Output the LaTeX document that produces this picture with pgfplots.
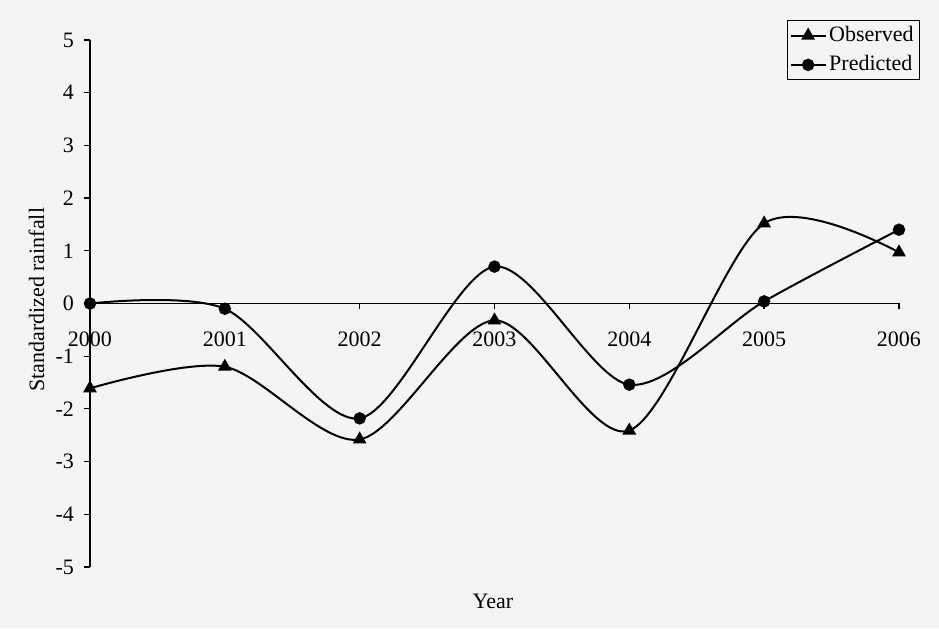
\documentclass[border=0pt]{standalone}
\usepackage{pgfplots}
\pgfplotsset{compat=1.18}
\usepackage{fontspec}
\setmainfont{Liberation Serif}
\definecolor{bg}{RGB}{244,244,244}
\newcommand{\cf}{\fontsize{11}{12.5}\selectfont}
\begin{document}
\begin{tikzpicture}
\fill[bg] (-45pt,-30.5pt) rectangle (424.5pt,283.5pt);
\begin{axis}[
  at={(0pt,0pt)}, anchor=south west,
  width=404.5pt, height=263.5pt, scale only axis,
  clip=false,
  axis x line=middle, axis y line=left,
  axis line style={-, line width=0.6pt},
  hide obscured x ticks=false,
  hide obscured y ticks=false,
  xmin=2000, xmax=2006, ymin=-5, ymax=5,
  xtick={2000,...,2006},
  xticklabels={2000,2001,2002,2003,2004,2005,2006},
  ytick={-5,...,5},
  yticklabels={-5,-4,-3,-2,-1,0,1,2,3,4,5},
  tick align=outside,
  major tick length=3pt,
  tick style={line width=0.6pt, black},
  xticklabel style={font=\cf, anchor=center, yshift=-15pt},
  yticklabel style={font=\cf, xshift=-1.5pt},
  xlabel={Year}, ylabel={Standardized rainfall},
  xlabel style={font=\cf, at={(rel axis cs:0.498,-0.066)}, anchor=center},
  ylabel style={font=\cf, at={(rel axis cs:-0.066,0.507)}, anchor=center},
  legend style={font=\cf, at={(rel axis cs:1.026,1.038)}, anchor=north east,
    draw=black, line width=0.5pt, fill=none, inner sep=1.5pt, row sep=2.5pt,
    nodes={inner sep=1.5pt}},
  legend cell align=left,
  every axis plot/.append style={line width=1pt, black},
]
\addplot[smooth, tension=0.5, mark=triangle*, mark size=3pt, mark options={solid, fill=black}]
  coordinates {(2000,-1.61) (2001,-1.20) (2002,-2.58) (2003,-0.32) (2004,-2.41) (2005,1.52) (2006,0.97)};
\addlegendentry{Observed}
\addplot[smooth, tension=0.5, mark=*, mark size=2.6pt, mark options={solid, fill=black}]
  coordinates {(2000,0.00) (2001,-0.10) (2002,-2.18) (2003,0.70) (2004,-1.54) (2005,0.04) (2006,1.40)};
\addlegendentry{Predicted}
\end{axis}
\end{tikzpicture}
\end{document}
